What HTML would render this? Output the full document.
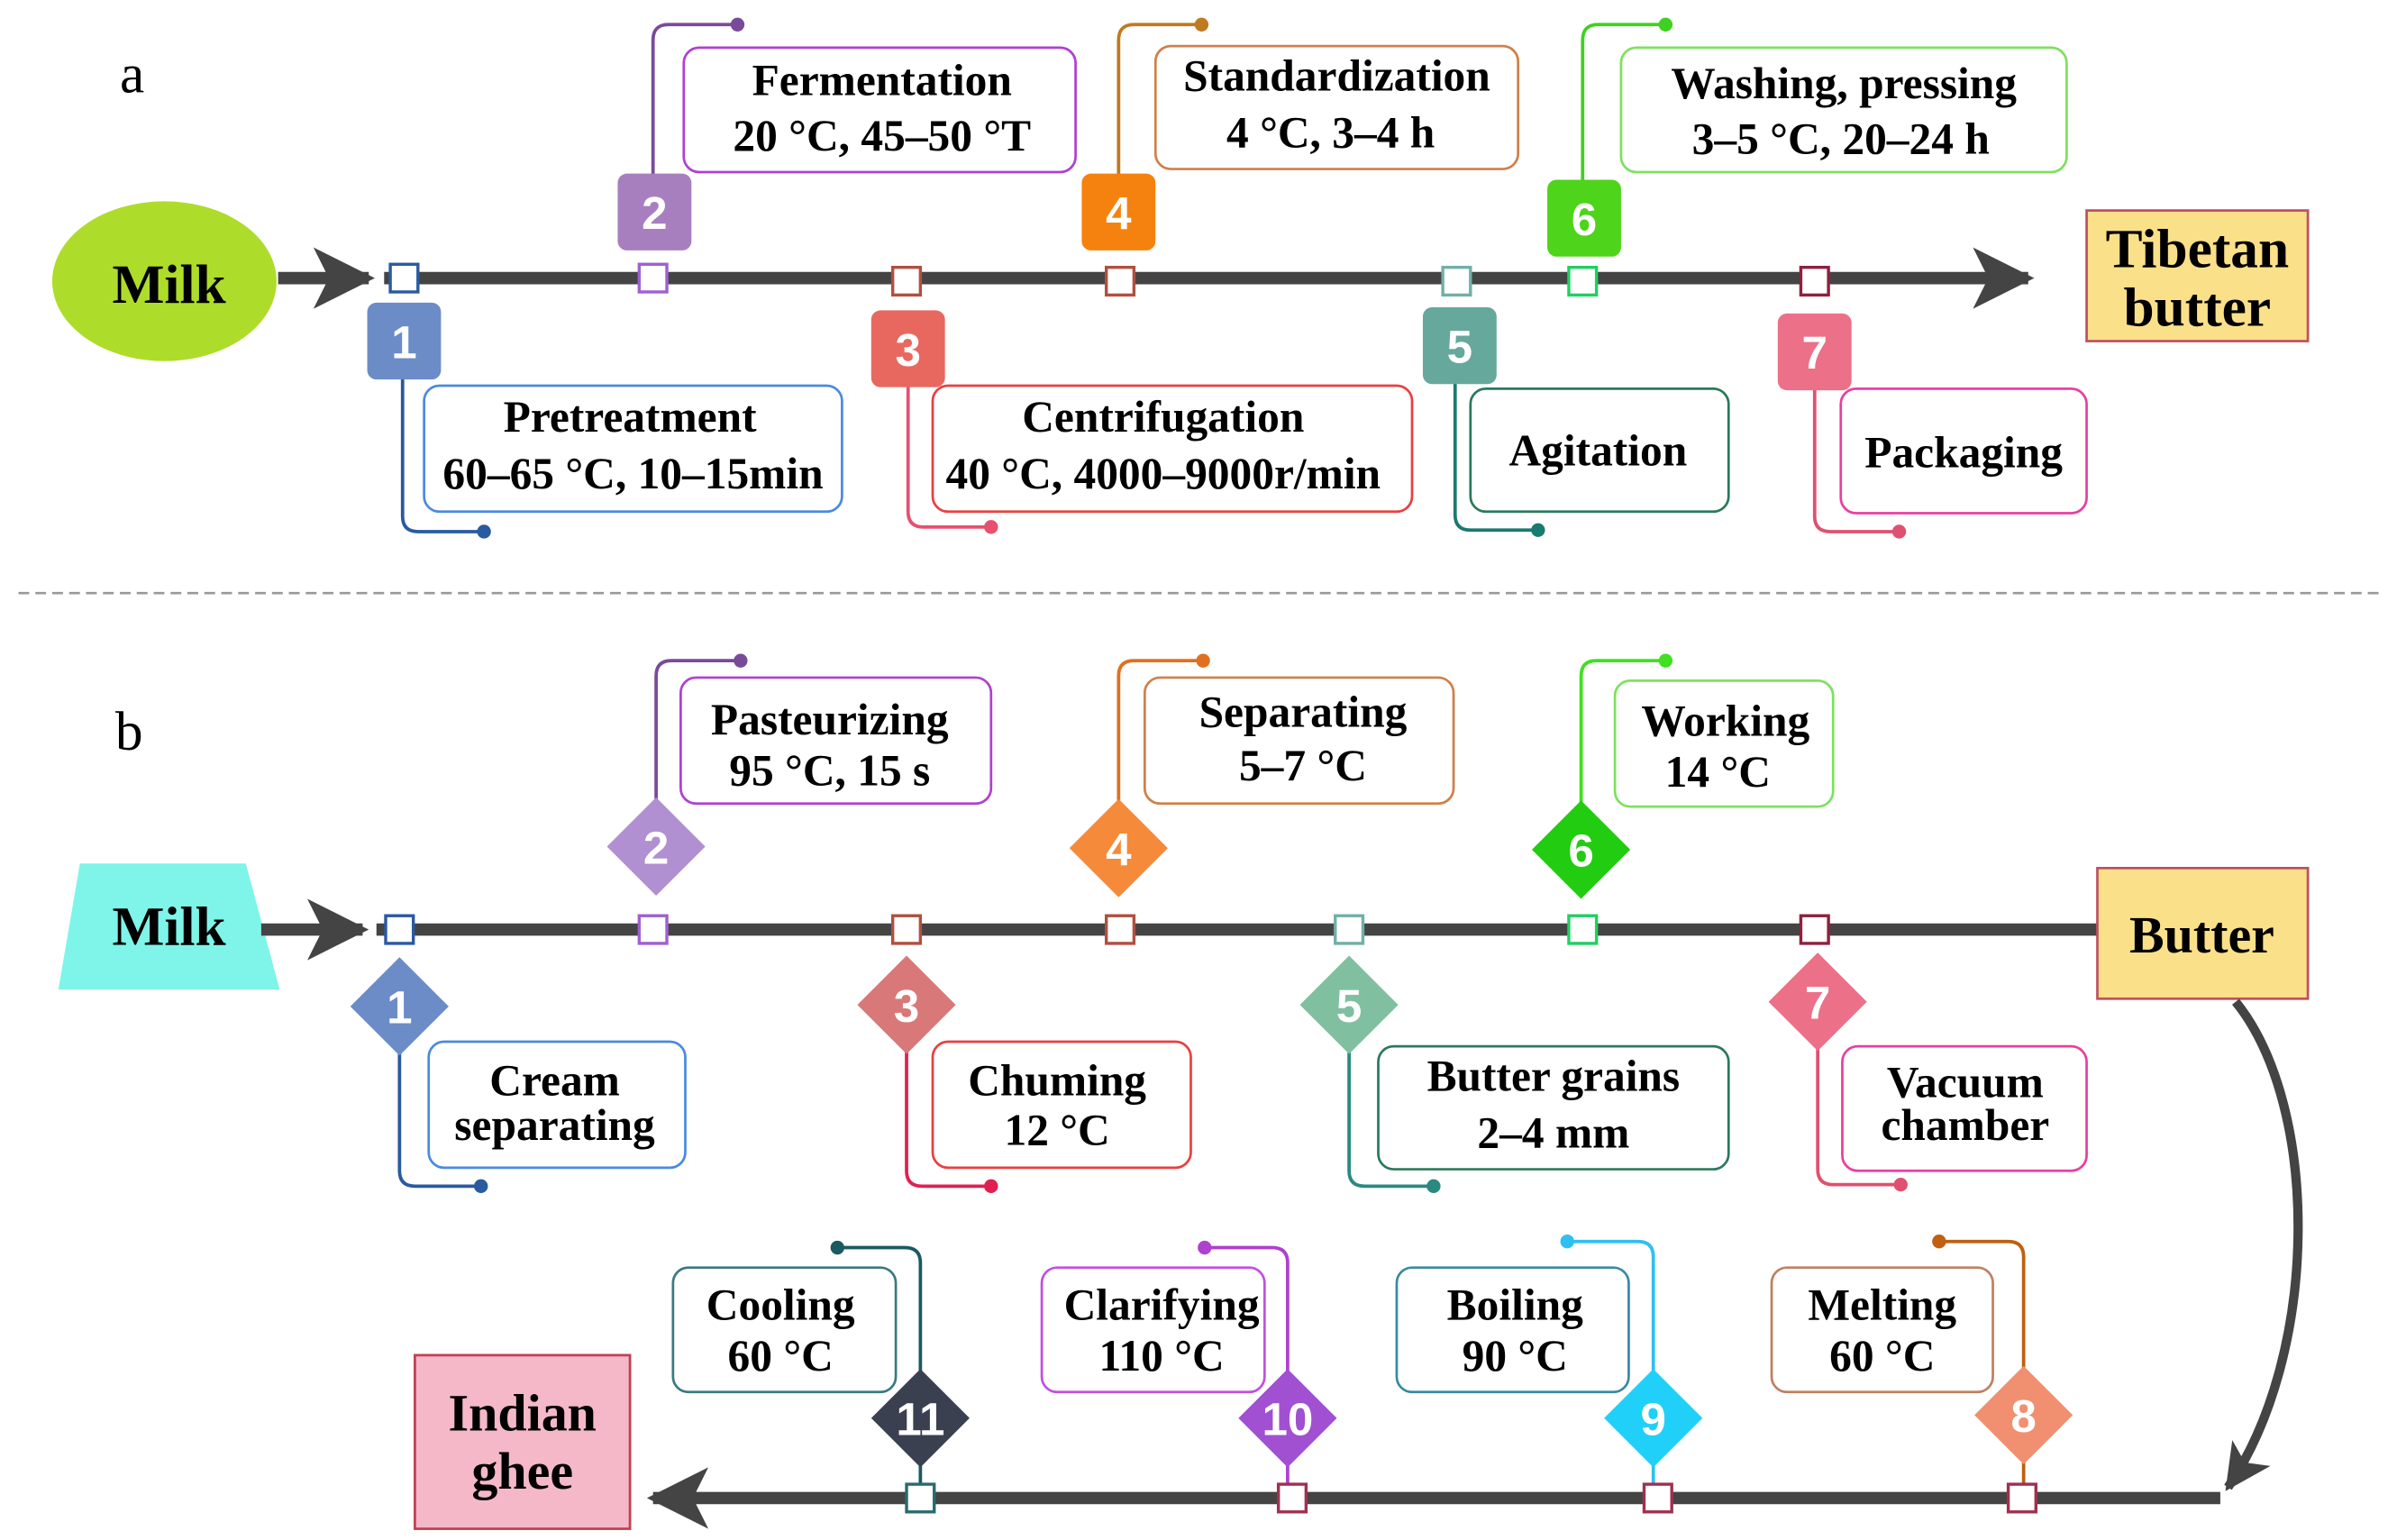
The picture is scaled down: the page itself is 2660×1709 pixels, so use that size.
<!DOCTYPE html>
<html><head><meta charset="utf-8"><style>
html,body{margin:0;padding:0;background:#fff}
svg{display:block}
text{font-family:"Liberation Serif",serif;font-weight:bold;fill:#000;text-anchor:middle}
.n{font-family:"Liberation Sans",sans-serif;fill:#fff;font-size:30px}
.b{fill:#fff;stroke-width:1.6}
.c{fill:none;stroke-width:2.2}
</style></head><body>
<svg width="2660" height="1709" viewBox="0 0 1560 1002.3" preserveAspectRatio="none" xmlns="http://www.w3.org/2000/svg">
<defs>
<marker id="ah" viewBox="0 0 10 10" refX="9" refY="5" markerWidth="5" markerHeight="5" orient="auto" markerUnits="strokeWidth"><path d="M0,0 L10,5 L0,10 L2.5,5 Z" fill="#444"/></marker>
</defs>
<g font-size="29">
<!-- ===== PART A ===== -->
<text x="86" y="60" font-size="36" font-weight="normal" style="font-weight:normal">a</text>
<ellipse cx="107" cy="183" rx="73" ry="52" fill="#aedc2a"/>
<text x="110" y="197" font-size="36">Milk</text>
<line x1="181" y1="181" x2="240" y2="181" stroke="#444" stroke-width="8" marker-end="url(#ah)"/>
<line x1="250" y1="181" x2="1320" y2="181" stroke="#444" stroke-width="8" marker-end="url(#ah)"/>
<rect x="1358" y="137" width="144" height="85" fill="#fbe08a" stroke="#c05060" stroke-width="1.6"/>
<text x="1430" y="174" font-size="36">Tibetan</text>
<text x="1430" y="212" font-size="36">butter</text>

<!-- connectors a -->
<path class="c" stroke="#2a5aa0" d="M262,230 V336 Q262,346 272,346 H315"/><circle cx="315" cy="346" r="4.5" fill="#2a5aa0"/>
<path class="c" stroke="#7a4a9a" d="M425,130 V26 Q425,16 435,16 H480"/><circle cx="480" cy="16" r="4.5" fill="#7a4a9a"/>
<path class="c" stroke="#e85070" d="M591,235 V333 Q591,343 601,343 H645"/><circle cx="645" cy="343" r="4.5" fill="#e85070"/>
<path class="c" stroke="#c07a20" d="M728,130 V26 Q728,16 738,16 H782"/><circle cx="782" cy="16" r="4.5" fill="#c07a20"/>
<path class="c" stroke="#1a7a70" d="M947,235 V335 Q947,345 957,345 H1001"/><circle cx="1001" cy="345" r="4.5" fill="#1a7a70"/>
<path class="c" stroke="#40d020" d="M1030,135 V26 Q1030,16 1040,16 H1084"/><circle cx="1084" cy="16" r="4.5" fill="#40d020"/>
<path class="c" stroke="#e05070" d="M1181,235 V336 Q1181,346 1191,346 H1236"/><circle cx="1236" cy="346" r="4.5" fill="#e05070"/>

<!-- markers a -->
<rect x="254" y="172" width="18" height="18" fill="#fff" stroke="#2a5aa0" stroke-width="2"/>
<rect x="416" y="172" width="18" height="18" fill="#fff" stroke="#a060d0" stroke-width="2"/>
<rect x="581" y="174" width="18" height="18" fill="#fff" stroke="#b05040" stroke-width="2"/>
<rect x="720" y="174" width="18" height="18" fill="#fff" stroke="#b05040" stroke-width="2"/>
<rect x="939" y="174" width="18" height="18" fill="#fff" stroke="#70b0a8" stroke-width="2"/>
<rect x="1021" y="174" width="18" height="18" fill="#fff" stroke="#20d060" stroke-width="2"/>
<rect x="1172" y="174" width="18" height="18" fill="#fff" stroke="#902040" stroke-width="2"/>

<!-- badges a -->
<rect x="239" y="197" width="48" height="50" rx="6" fill="#6b8cc7"/><text class="n" x="263" y="233">1</text>
<rect x="402" y="113" width="48" height="50" rx="6" fill="#a77fbf"/><text class="n" x="426" y="149">2</text>
<rect x="567" y="202" width="48" height="50" rx="6" fill="#e8685f"/><text class="n" x="591" y="238">3</text>
<rect x="704" y="113" width="48" height="50" rx="6" fill="#f5820e"/><text class="n" x="728" y="149">4</text>
<rect x="926" y="200" width="48" height="50" rx="6" fill="#66a89c"/><text class="n" x="950" y="236">5</text>
<rect x="1007" y="117" width="48" height="50" rx="6" fill="#4ed41a"/><text class="n" x="1031" y="153">6</text>
<rect x="1157" y="204" width="48" height="50" rx="6" fill="#ec7088"/><text class="n" x="1181" y="240">7</text>

<!-- text boxes a -->
<rect class="b" x="445" y="31" width="255" height="81" rx="10" stroke="#b040d0"/>
<text x="574" y="62">Fermentation</text><text x="574" y="98">20 °C, 45–50 °T</text>
<rect class="b" x="752" y="30" width="236" height="80" rx="10" stroke="#d0804a"/>
<text x="870" y="59">Standardization</text><text x="866" y="96">4 °C, 3–4 h</text>
<rect class="b" x="1055" y="31" width="290" height="81" rx="10" stroke="#80e060"/>
<text x="1200" y="64">Washing, pressing</text><text x="1198" y="100">3–5 °C, 20–24 h</text>
<rect class="b" x="276" y="251" width="272" height="82" rx="10" stroke="#4a8ae0"/>
<text x="410" y="281">Pretreatment</text><text x="412" y="318">60–65 °C, 10–15min</text>
<rect class="b" x="607" y="251" width="312" height="82" rx="10" stroke="#e84040"/>
<text x="757" y="281">Centrifugation</text><text x="757" y="318">40 °C, 4000–9000r/min</text>
<rect class="b" x="957" y="253" width="168" height="80" rx="10" stroke="#2a7a5a"/>
<text x="1040" y="303">Agitation</text>
<rect class="b" x="1198" y="253" width="160" height="81" rx="10" stroke="#e840a0"/>
<text x="1278" y="304">Packaging</text>

<!-- separator -->
<line x1="12" y1="386" x2="1550" y2="386" stroke="#999" stroke-width="1.5" stroke-dasharray="7,4"/>

<!-- ===== PART B ===== -->
<text x="84" y="488" font-size="36" style="font-weight:normal">b</text>
<polygon points="52,562 160,562 182,644 38,644" fill="#7ef5e8"/>
<text x="110" y="615" font-size="36">Milk</text>
<line x1="170" y1="605" x2="236" y2="605" stroke="#444" stroke-width="8" marker-end="url(#ah)"/>
<line x1="245" y1="605" x2="1366" y2="605" stroke="#444" stroke-width="8"/>
<rect x="1365" y="565" width="137" height="85" fill="#fbe08a" stroke="#c05060" stroke-width="1.6"/>
<text x="1433" y="620" font-size="34">Butter</text>
<path d="M1455,652 C1510,720 1510,880 1450,968" fill="none" stroke="#444" stroke-width="6" marker-end="url(#ah)"/>
<line x1="1445" y1="975" x2="425" y2="975" stroke="#444" stroke-width="8" marker-end="url(#ah)"/>
<rect x="270" y="882" width="140" height="113" fill="#f4b8c8" stroke="#c04050" stroke-width="1.6"/>
<text x="340" y="931" font-size="34">Indian</text>
<text x="340" y="969" font-size="34">ghee</text>

<!-- connectors b -->
<path class="c" stroke="#2a5aa0" d="M260,670 V762 Q260,772 270,772 H313"/><circle cx="313" cy="772" r="4.5" fill="#2a5aa0"/>
<path class="c" stroke="#7a4a9a" d="M427,540 V440 Q427,430 437,430 H482"/><circle cx="482" cy="430" r="4.5" fill="#7a4a9a"/>
<path class="c" stroke="#e02050" d="M590,670 V762 Q590,772 600,772 H645"/><circle cx="645" cy="772" r="4.5" fill="#e02050"/>
<path class="c" stroke="#e07020" d="M728,540 V440 Q728,430 738,430 H783"/><circle cx="783" cy="430" r="4.5" fill="#e07020"/>
<path class="c" stroke="#2a8a80" d="M878,670 V762 Q878,772 888,772 H933"/><circle cx="933" cy="772" r="4.5" fill="#2a8a80"/>
<path class="c" stroke="#40e020" d="M1029,540 V440 Q1029,430 1039,430 H1084"/><circle cx="1084" cy="430" r="4.5" fill="#40e020"/>
<path class="c" stroke="#e05070" d="M1183,670 V761 Q1183,771 1193,771 H1237"/><circle cx="1237" cy="771" r="4.5" fill="#e05070"/>
<path class="c" stroke="#1a5a60" d="M599,975 V822 Q599,812 589,812 H545"/><circle cx="545" cy="812" r="4.5" fill="#1a5a60"/>
<path class="c" stroke="#b040d0" d="M838,975 V822 Q838,812 828,812 H784"/><circle cx="784" cy="812" r="4.5" fill="#b040d0"/>
<path class="c" stroke="#30c0f0" d="M1076,975 V818 Q1076,808 1066,808 H1020"/><circle cx="1020" cy="808" r="4.5" fill="#30c0f0"/>
<path class="c" stroke="#c06010" d="M1317,975 V818 Q1317,808 1307,808 H1262"/><circle cx="1262" cy="808" r="4.5" fill="#c06010"/>

<!-- markers b -->
<rect x="251" y="596" width="18" height="18" fill="#fff" stroke="#2a5aa0" stroke-width="2"/>
<rect x="416" y="596" width="18" height="18" fill="#fff" stroke="#a060d0" stroke-width="2"/>
<rect x="581" y="596" width="18" height="18" fill="#fff" stroke="#b05040" stroke-width="2"/>
<rect x="720" y="596" width="18" height="18" fill="#fff" stroke="#b05040" stroke-width="2"/>
<rect x="869" y="596" width="18" height="18" fill="#fff" stroke="#70b0a8" stroke-width="2"/>
<rect x="1021" y="596" width="18" height="18" fill="#fff" stroke="#20d060" stroke-width="2"/>
<rect x="1172" y="596" width="18" height="18" fill="#fff" stroke="#902040" stroke-width="2"/>
<rect x="590" y="966" width="18" height="18" fill="#fff" stroke="#2a6a70" stroke-width="2"/>
<rect x="832" y="966" width="18" height="18" fill="#fff" stroke="#a03050" stroke-width="2"/>
<rect x="1070" y="966" width="18" height="18" fill="#fff" stroke="#a03050" stroke-width="2"/>
<rect x="1307" y="966" width="18" height="18" fill="#fff" stroke="#a03050" stroke-width="2"/>

<!-- diamonds b -->
<polygon points="260,623 292,655 260,687 228,655" fill="#6b8cc7"/><text class="n" x="260" y="666">1</text>
<polygon points="427,519 459,551 427,583 395,551" fill="#b090d0"/><text class="n" x="427" y="562">2</text>
<polygon points="590,622 622,654 590,686 558,654" fill="#d87878"/><text class="n" x="590" y="665">3</text>
<polygon points="728,520 760,552 728,584 696,552" fill="#f58a3a"/><text class="n" x="728" y="563">4</text>
<polygon points="878,622 910,654 878,686 846,654" fill="#80c0a0"/><text class="n" x="878" y="665">5</text>
<polygon points="1029,521 1061,553 1029,585 997,553" fill="#22cc10"/><text class="n" x="1029" y="564">6</text>
<polygon points="1183,620 1215,652 1183,684 1151,652" fill="#ec7088"/><text class="n" x="1183" y="663">7</text>
<polygon points="599,891 631,923 599,955 567,923" fill="#3a4050"/><text class="n" x="599" y="934" font-size="27">11</text>
<polygon points="838,891 870,923 838,955 806,923" fill="#a050d0"/><text class="n" x="838" y="934" font-size="27">10</text>
<polygon points="1076,891 1108,923 1076,955 1044,923" fill="#20d0f8"/><text class="n" x="1076" y="934">9</text>
<polygon points="1317,889 1349,921 1317,953 1285,921" fill="#f09070"/><text class="n" x="1317" y="932">8</text>

<!-- text boxes b -->
<rect class="b" x="443" y="441" width="202" height="82" rx="10" stroke="#b040d0"/>
<text x="540" y="478">Pasteurizing</text><text x="540" y="511">95 °C, 15 s</text>
<rect class="b" x="745" y="441" width="201" height="82" rx="10" stroke="#d0804a"/>
<text x="848" y="473">Separating</text><text x="848" y="508">5–7 °C</text>
<rect class="b" x="1051" y="443" width="142" height="82" rx="10" stroke="#80e060"/>
<text x="1123" y="479">Working</text><text x="1118" y="512">14 °C</text>
<rect class="b" x="279" y="678" width="167" height="82" rx="10" stroke="#4a8ae0"/>
<text x="361" y="713">Cream</text><text x="361" y="742">separating</text>
<rect class="b" x="607" y="678" width="168" height="82" rx="10" stroke="#e84040"/>
<text x="688" y="713">Chuming</text><text x="688" y="745">12 °C</text>
<rect class="b" x="897" y="681" width="228" height="80" rx="10" stroke="#2a7a5a"/>
<text x="1011" y="710">Butter grains</text><text x="1011" y="747">2–4 mm</text>
<rect class="b" x="1199" y="681" width="159" height="81" rx="10" stroke="#e840a0"/>
<text x="1279" y="714">Vacuum</text><text x="1279" y="742">chamber</text>
<rect class="b" x="438" y="825" width="145" height="81" rx="10" stroke="#3a7a80"/>
<text x="508" y="859">Cooling</text><text x="508" y="892">60 °C</text>
<rect class="b" x="678" y="825" width="145" height="81" rx="10" stroke="#c050e0"/>
<text x="756" y="859">Clarifying</text><text x="756" y="892">110 °C</text>
<rect class="b" x="909" y="825" width="151" height="81" rx="10" stroke="#3a8aa0"/>
<text x="986" y="859">Boiling</text><text x="986" y="892">90 °C</text>
<rect class="b" x="1153" y="825" width="144" height="81" rx="10" stroke="#c08060"/>
<text x="1225" y="859">Melting</text><text x="1225" y="892">60 °C</text>
</g>
</svg>
</body></html>
